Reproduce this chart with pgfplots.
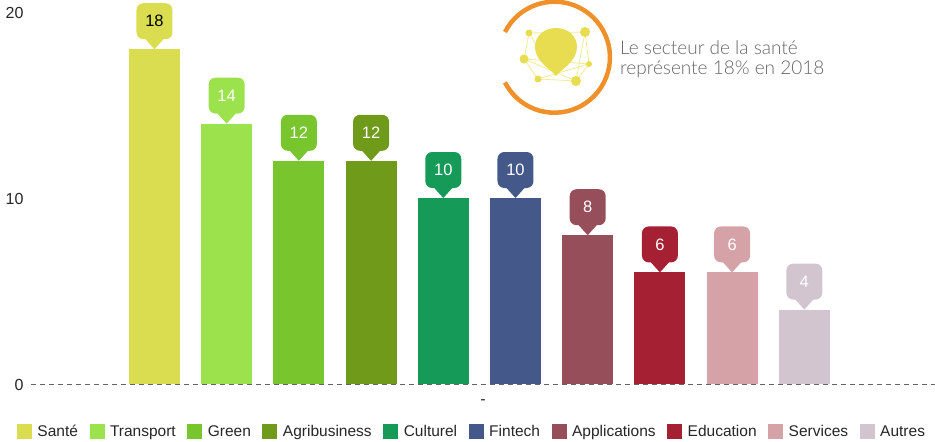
\documentclass[border=0pt]{standalone}
\usepackage{pgfplots}
\pgfplotsset{compat=1.18}
\usepackage{fontspec}
\setmainfont{Liberation Sans}
\newfontfamily\lightfont{Lato Light}
\definecolor{c1}{HTML}{DBDD50}
\definecolor{c2}{HTML}{9BE24C}
\definecolor{c3}{HTML}{78C52E}
\definecolor{c4}{HTML}{709A1A}
\definecolor{c5}{HTML}{169A58}
\definecolor{c6}{HTML}{44598A}
\definecolor{c7}{HTML}{964E5A}
\definecolor{c8}{HTML}{A62033}
\definecolor{c9}{HTML}{D5A2A8}
\definecolor{c10}{HTML}{D3C5D0}
\definecolor{logoO}{HTML}{F0902A}
\definecolor{logoY}{HTML}{E8DC50}
\pgfdeclareplotmark{callout}{%
  \pgfpathmoveto{\pgfpoint{0pt}{0pt}}%
  \pgfpathlineto{\pgfpoint{-9pt}{10pt}}%
  \pgfpathlineto{\pgfpoint{-11pt}{10pt}}%
  \pgfpathcurveto{\pgfpoint{-15pt}{10pt}}{\pgfpoint{-18pt}{13pt}}{\pgfpoint{-18pt}{17pt}}%
  \pgfpathlineto{\pgfpoint{-18pt}{39pt}}%
  \pgfpathcurveto{\pgfpoint{-18pt}{43pt}}{\pgfpoint{-15pt}{46pt}}{\pgfpoint{-11pt}{46pt}}%
  \pgfpathlineto{\pgfpoint{11pt}{46pt}}%
  \pgfpathcurveto{\pgfpoint{15pt}{46pt}}{\pgfpoint{18pt}{43pt}}{\pgfpoint{18pt}{39pt}}%
  \pgfpathlineto{\pgfpoint{18pt}{17pt}}%
  \pgfpathcurveto{\pgfpoint{18pt}{13pt}}{\pgfpoint{15pt}{10pt}}{\pgfpoint{11pt}{10pt}}%
  \pgfpathlineto{\pgfpoint{9pt}{10pt}}%
  \pgfpathclose
  \pgfusepathqfill
}
\newcommand{\serie}[5]{%
  \addplot[ybar, bar shift=0pt, bar width=51pt, draw=none, fill=#1] coordinates {(#2,#3)};
  \addlegendentry{#5}
  \addplot[forget plot, only marks, mark=callout, mark options={fill=#1, draw=none},
    nodes near coords, nodes near coords align={anchor=center},
    every node near coord/.style={anchor=center, yshift=28pt, text=#4, font=\fontsize{16.5}{18}\selectfont}]
    coordinates {(#2,#3)};
}
\begin{document}
\begin{tikzpicture}[x=1pt,y=1pt]
\path[use as bounding box] (0,0) rectangle (935,-442);
\begin{axis}[
  at={(31pt,-384pt)}, anchor=south west,
  scale only axis, width=904pt, height=372pt,
  clip=false,
  xmin=-1.71, xmax=10.81, ymin=0, ymax=20,
  axis lines=left,
  x axis line style={dash pattern=on 5pt off 4pt, draw=black!60, line width=1pt, -},
  y axis line style={draw=none},
  axis line style={-},
  major tick length=0pt,
  xtick={4.55}, xticklabels={-},
  ytick={0,10,20},
  yticklabel style={font=\fontsize{16}{18}\selectfont, xshift=-4pt, yshift=-1pt, text=black!85},
  xticklabel style={font=\fontsize{16}{18}\selectfont, text=black!85, yshift=-12pt},
  /pgf/number format/assume math mode=true,
  legend image code/.code={\path[#1, draw=none] (0pt,-7.5pt) rectangle (15pt,7.5pt);},
  legend columns=10,
  legend cell align=left,
  legend style={at={(-14pt,-47.5pt)}, anchor=west, draw=none, fill=none, inner sep=0pt, outer sep=0pt,
    font=\fontsize{15.5}{18}\selectfont, text=black!85,
    /tikz/every odd column/.append style={column sep=5.5pt},
    /tikz/every even column/.append style={column sep=11.55pt},
    nodes={inner sep=0pt}},
]
\serie{c1}{0}{18}{black}{Santé}
\serie{c2}{1}{14}{white}{Transport}
\serie{c3}{2}{12}{white}{Green}
\serie{c4}{3}{12}{white}{Agribusiness}
\serie{c5}{4}{10}{white}{Culturel}
\serie{c6}{5}{10}{white}{Fintech}
\serie{c7}{6}{8}{white}{Applications}
\serie{c8}{7}{6}{white}{Education}
\serie{c9}{8}{6}{white}{Services}
\serie{c10}{9}{4}{white}{Autres}
\end{axis}
% logo
\draw[logoO, line width=4.5pt] (505,-32) arc[start angle=153, end angle=-153, radius=55.5];
\begin{scope}[logoY!60, line width=0.8pt]
\draw (529,-33) -- (524,-59) -- (538,-79) -- (576,-81) -- (589,-64) -- (585,-32) -- (576,-81);
\draw (529,-33) -- (585,-32);
\draw (524,-59) -- (589,-64) -- (538,-79);
\draw (524,-59) -- (576,-81);
\draw (529,-33) -- (556,-76);
\end{scope}
\fill[logoY] (556,-76) .. controls (552,-70) and (535,-62) .. (535,-47) .. controls (535,-36) and (544,-28) .. (556,-28) .. controls (568,-28) and (577,-36) .. (577,-47) .. controls (577,-62) and (560,-70) .. (556,-76) -- cycle;
\fill[logoY] (529,-33) circle (3.5);
\fill[logoY] (585,-32) circle (5);
\fill[logoY] (524,-59) circle (4.5);
\fill[logoY] (589,-64) circle (3);
\fill[logoY] (538,-79) circle (3.5);
\fill[logoY] (576,-81) circle (5);
\node[anchor=base west, inner sep=0pt, text=black!60, font=\lightfont\fontsize{19}{22}\selectfont] at (620,-54) {Le secteur de la santé};
\node[anchor=base west, inner sep=0pt, text=black!60, font=\lightfont\fontsize{19}{22}\selectfont] at (620,-74) {représente 18\% en 2018};
\end{tikzpicture}
\end{document}
